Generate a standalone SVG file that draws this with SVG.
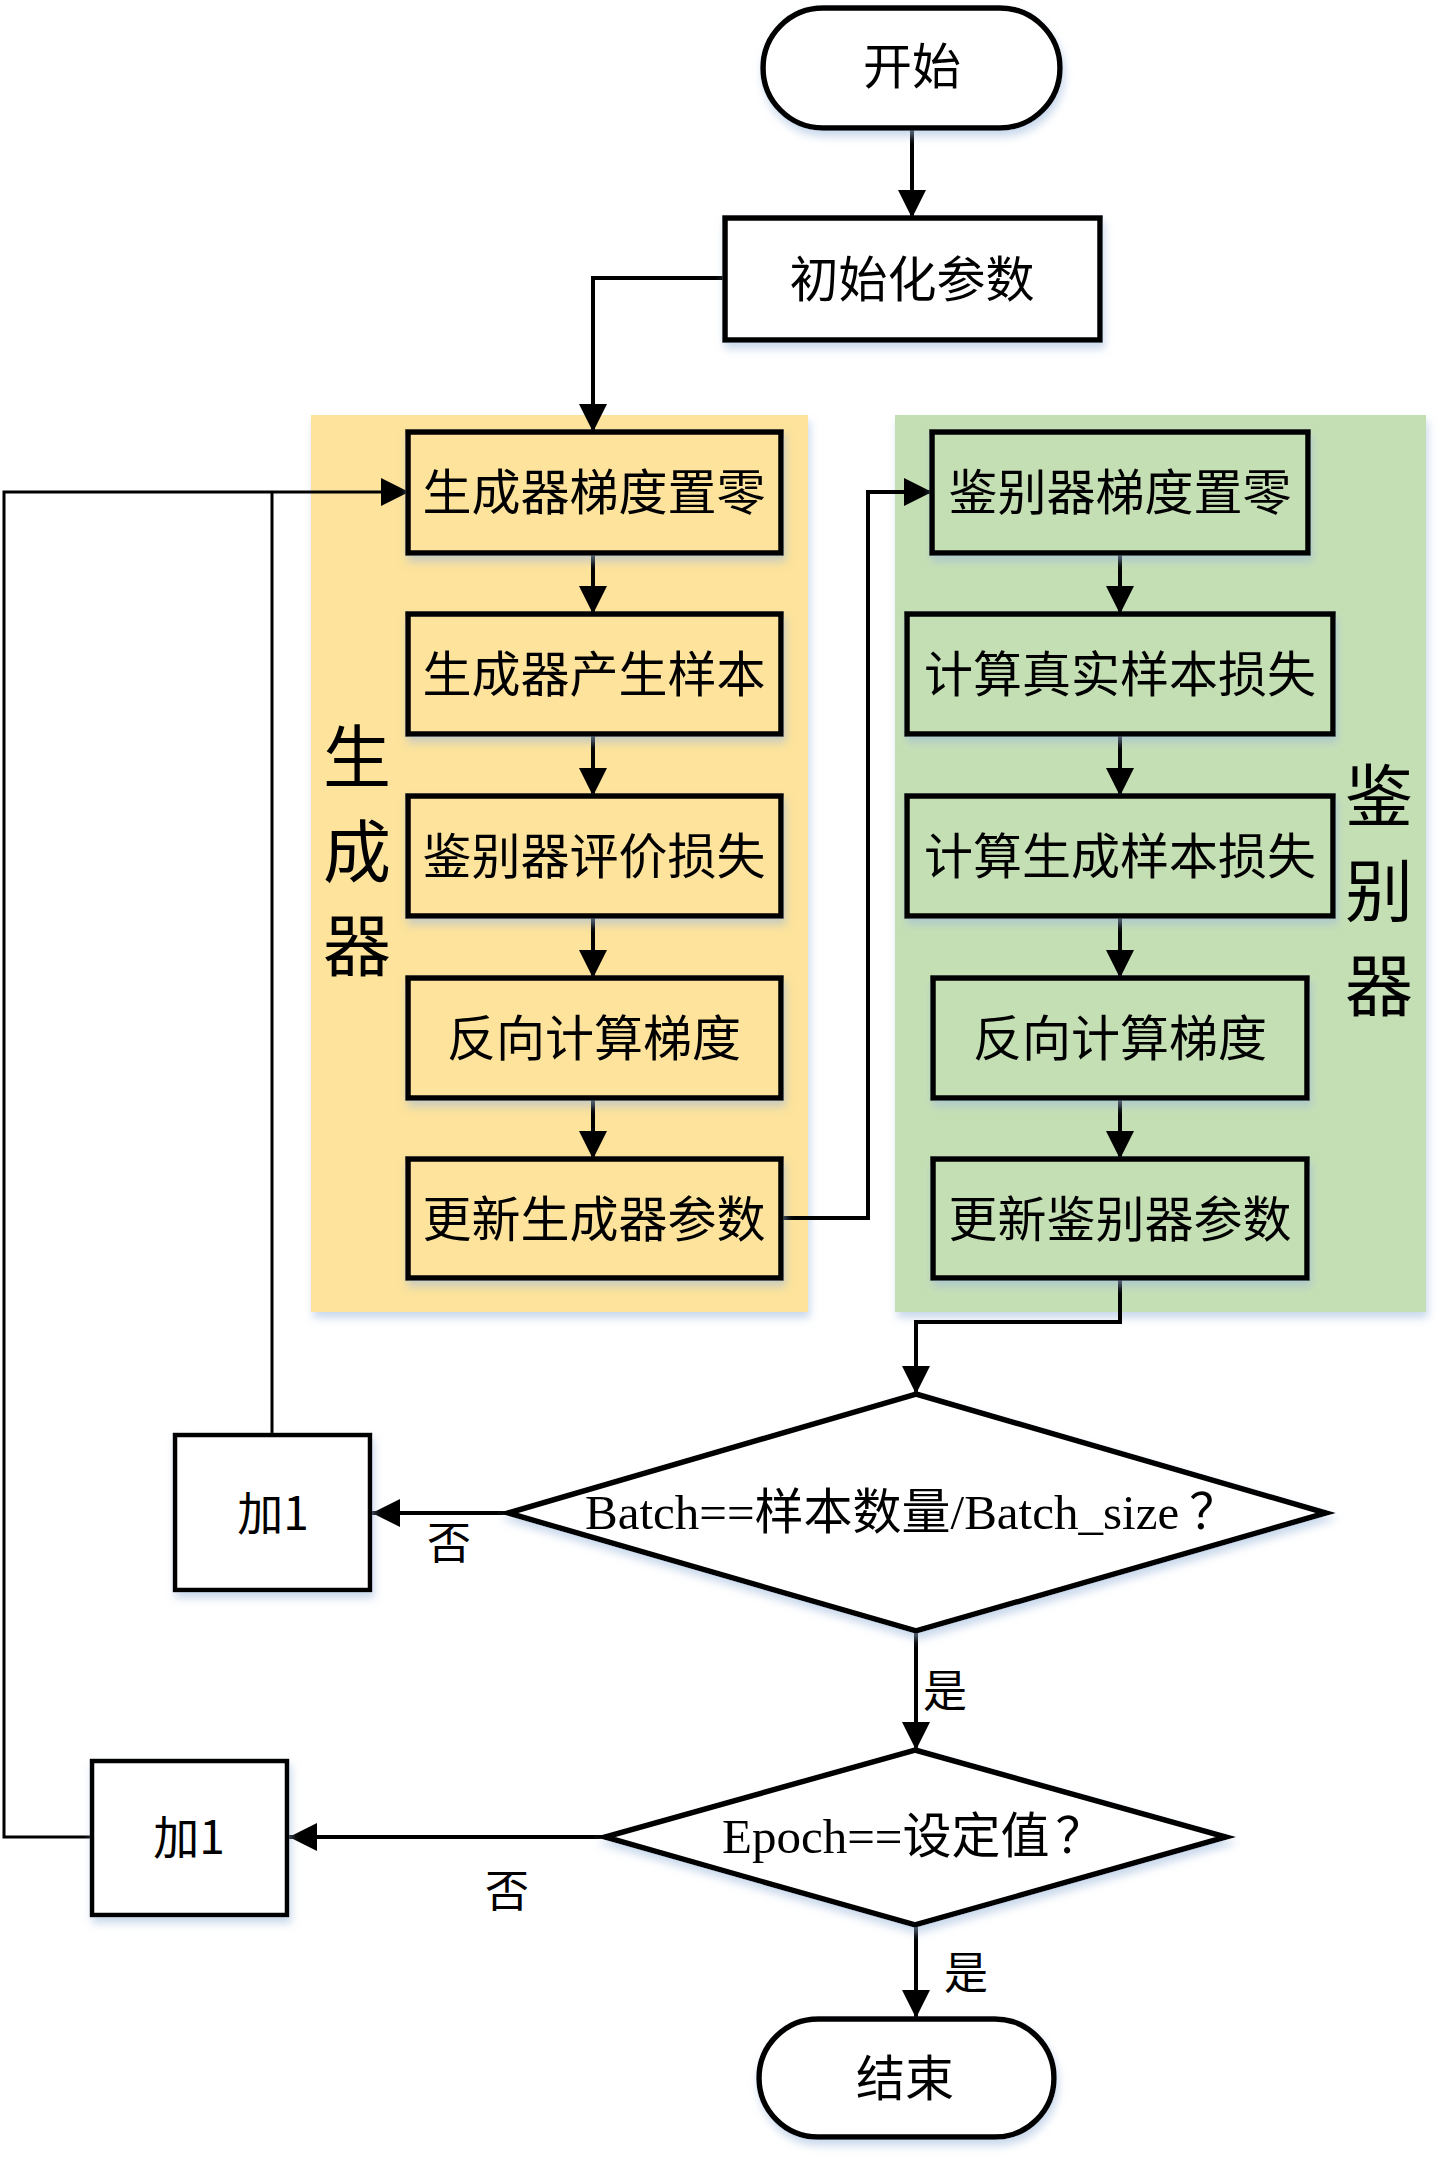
<svg xmlns="http://www.w3.org/2000/svg" width="1453" height="2163" viewBox="0 0 1453 2163">
<defs>
<filter id="sh" x="-10%" y="-10%" width="130%" height="140%">
<feDropShadow dx="2" dy="6" stdDeviation="4" flood-color="#9fb9dc" flood-opacity="0.55"/>
</filter>
<marker id="ah" viewBox="0 0 10 10" refX="10" refY="5" markerWidth="28" markerHeight="28" markerUnits="userSpaceOnUse" orient="auto">
<path d="M0,0 L10,5 L0,10 Z" fill="#000"/>
</marker>
<style>
.box{stroke:#000;stroke-width:5.5;filter:url(#sh)}
.w{fill:#fff}
.y{fill:#FDE39B}
.g{fill:#C5DFB4}
.t{font-family:"Noto Sans CJK SC","Noto Sans",sans-serif;font-size:49px;text-anchor:middle;fill:#000}
.big{font-family:"Noto Sans CJK SC",sans-serif;font-size:68px;text-anchor:middle;fill:#000}
.lab{font-family:"Noto Sans CJK SC",sans-serif;font-size:44px;text-anchor:middle;fill:#000}
.ser{font-family:"Liberation Serif","Noto Sans CJK SC",serif;font-size:49px;fill:#000}
.c{fill:none;stroke:#000;stroke-width:4}
.c3{fill:none;stroke:#000;stroke-width:3}
.a{marker-end:url(#ah)}
</style>
</defs>

<g id="panels">
<rect id="panel-gen" x="311" y="415" width="497" height="897" fill="#FDE39B" filter="url(#sh)"/>
<rect id="panel-dis" x="895" y="415" width="531" height="897" fill="#C5DFB4" filter="url(#sh)"/>
<text class="big" x="357" y="782">生</text>
<text class="big" x="357" y="877">成</text>
<text class="big" x="357" y="971">器</text>
<text class="big" x="1379" y="821">鉴</text>
<text class="big" x="1379" y="916">别</text>
<text class="big" x="1379" y="1011">器</text>
</g>

<g id="connectors">
<line class="c a" x1="912" y1="130" x2="912" y2="218"/>
<polyline class="c a" points="725,278 593,278 593,432"/>
<line class="c a" x1="593" y1="553" x2="593" y2="614"/>
<line class="c a" x1="593" y1="734" x2="593" y2="796"/>
<line class="c a" x1="593" y1="916" x2="593" y2="978"/>
<line class="c a" x1="593" y1="1098" x2="593" y2="1159"/>
<polyline class="c a" points="782,1218 868,1218 868,492 932,492"/>
<line class="c a" x1="1120" y1="553" x2="1120" y2="614"/>
<line class="c a" x1="1120" y1="734" x2="1120" y2="796"/>
<line class="c a" x1="1120" y1="916" x2="1120" y2="978"/>
<line class="c a" x1="1120" y1="1098" x2="1120" y2="1159"/>
<polyline class="c a" points="1120,1279 1120,1322 916,1322 916,1394"/>
<line class="c a" x1="508" y1="1513" x2="372" y2="1513"/>
<line class="c a" x1="916" y1="1632" x2="916" y2="1750"/>
<line class="c a" x1="605" y1="1837" x2="289" y2="1837"/>
<line class="c a" x1="916" y1="1926" x2="916" y2="2018"/>
<polyline class="c3" points="272,1434 272,492"/>
<polyline class="c3 a" points="91,1837 4,1837 4,492 409,492"/>
<text class="lab" x="449" y="1559">否</text>
<text class="lab" x="945" y="1707">是</text>
<text class="lab" x="507" y="1907">否</text>
<text class="lab" x="966" y="1989">是</text>
</g>

<g id="start">
<rect class="box w" x="763" y="8" width="297" height="120" rx="60"/>
<text class="t" x="912" y="84">开始</text>
</g>
<g id="init">
<rect class="box w" x="725" y="218" width="375" height="122"/>
<text class="t" x="912" y="297">初始化参数</text>
</g>

<g id="g1"><rect class="box y" x="408" y="432" width="373" height="121"/><text class="t" x="594" y="510">生成器梯度置零</text></g>
<g id="g2"><rect class="box y" x="408" y="614" width="373" height="120"/><text class="t" x="594" y="692">生成器产生样本</text></g>
<g id="g3"><rect class="box y" x="408" y="796" width="373" height="120"/><text class="t" x="594" y="874">鉴别器评价损失</text></g>
<g id="g4"><rect class="box y" x="408" y="978" width="373" height="120"/><text class="t" x="594" y="1056">反向计算梯度</text></g>
<g id="g5"><rect class="box y" x="408" y="1159" width="373" height="119"/><text class="t" x="594" y="1237">更新生成器参数</text></g>

<g id="d1"><rect class="box g" x="932" y="432" width="376" height="121"/><text class="t" x="1120" y="510">鉴别器梯度置零</text></g>
<g id="d2"><rect class="box g" x="907" y="614" width="426" height="120"/><text class="t" x="1120" y="692">计算真实样本损失</text></g>
<g id="d3"><rect class="box g" x="907" y="796" width="426" height="120"/><text class="t" x="1120" y="874">计算生成样本损失</text></g>
<g id="d4"><rect class="box g" x="933" y="978" width="374" height="120"/><text class="t" x="1120" y="1056">反向计算梯度</text></g>
<g id="d5"><rect class="box g" x="933" y="1159" width="374" height="119"/><text class="t" x="1120" y="1237">更新鉴别器参数</text></g>

<g id="dec1">
<polygon class="box w" points="916,1394 1326,1513 916,1631 508,1513"/>
<text class="ser" x="585" y="1529">Batch==样本数量/Batch_size<tspan dx="10">？</tspan></text>
</g>
<g id="inc1">
<rect class="box w" x="175" y="1435" width="195" height="155" style="stroke-width:4.5"/>
<text class="t" x="273" y="1530" style="font-size:46px">加1</text>
</g>
<g id="dec2">
<polygon class="box w" points="915,1750 1226,1837 915,1925 605,1837"/>
<text class="ser" x="722" y="1853">Epoch==设定值<tspan dx="6">？</tspan></text>
</g>
<g id="inc2">
<rect class="box w" x="92" y="1761" width="195" height="154" style="stroke-width:4.5"/>
<text class="t" x="189" y="1854" style="font-size:46px">加1</text>
</g>
<g id="end">
<rect class="box w" x="759" y="2019" width="295" height="118" rx="59"/>
<text class="t" x="905" y="2096">结束</text>
</g>
</svg>
